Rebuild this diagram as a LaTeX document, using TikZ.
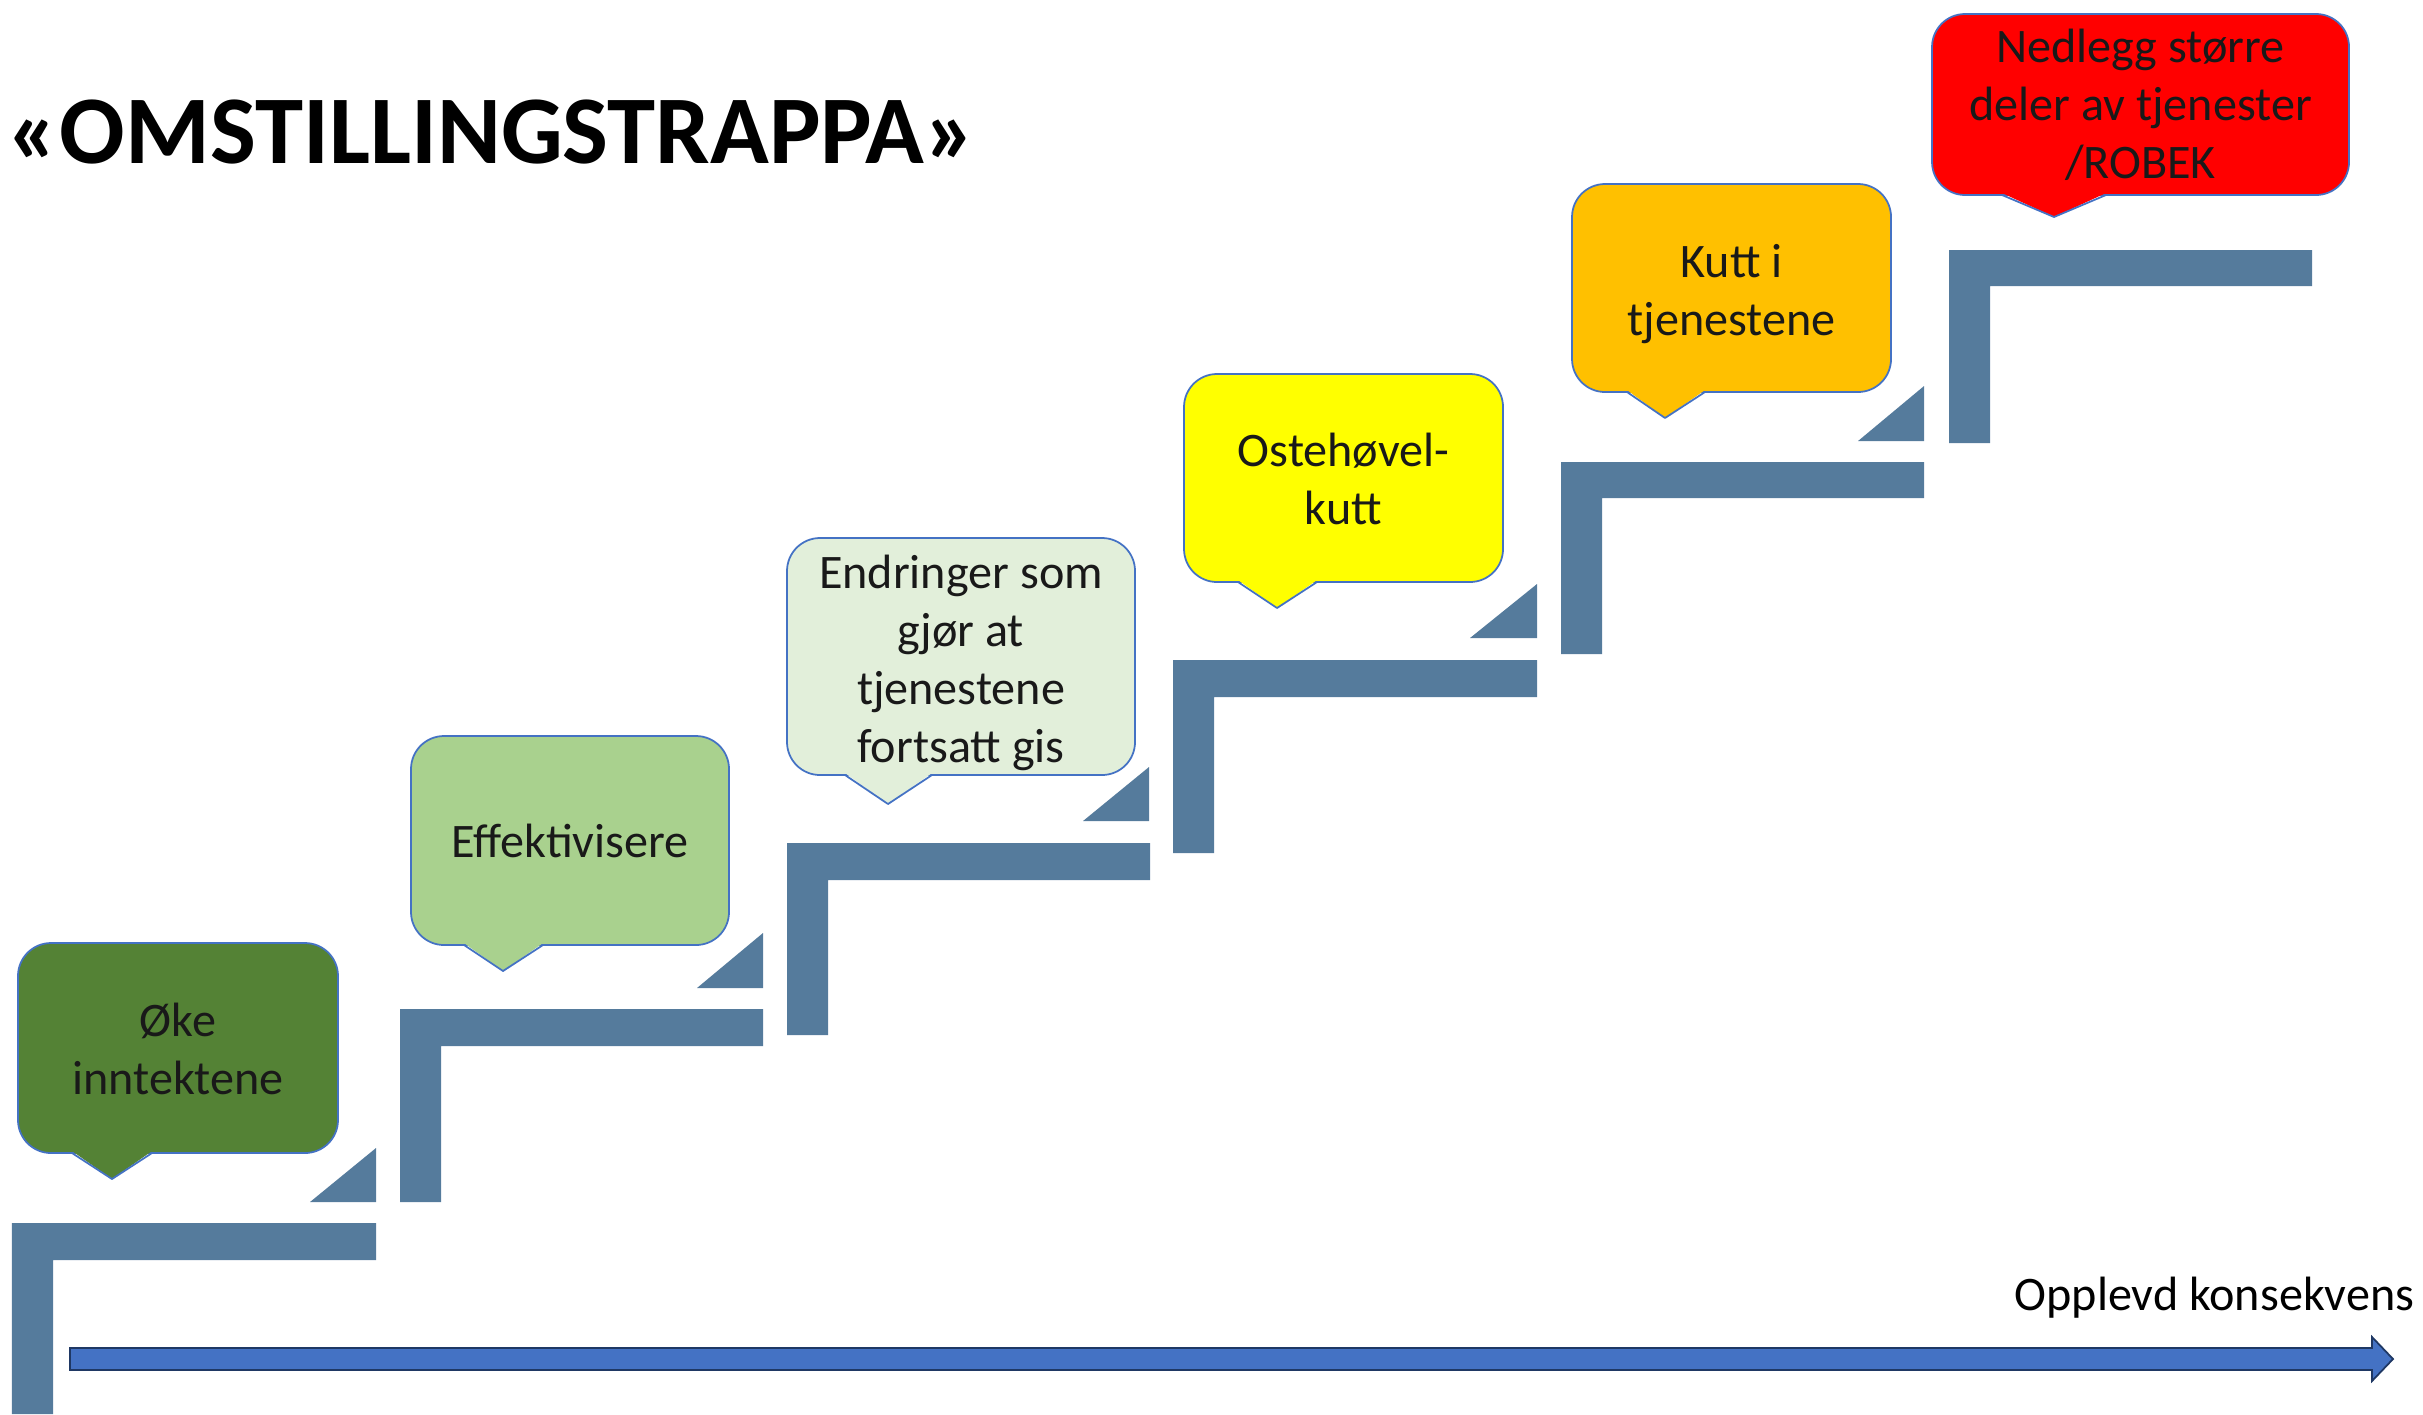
\documentclass[tikz,border=0pt]{standalone}
\usepackage{fontspec}
\setmainfont{Carlito}
\usepackage{tikz}

\definecolor{stair}{HTML}{557B9C}
\definecolor{bubbleedge}{HTML}{4472C4}
\definecolor{axisblue}{HTML}{4472C4}
\definecolor{axisedge}{HTML}{1F3864}
\definecolor{okegreen}{HTML}{548235}
\definecolor{effgreen}{HTML}{A9D18E}
\definecolor{endrgreen}{HTML}{E2EFDA}
\definecolor{ostyellow}{HTML}{FFFF00}
\definecolor{kuttorange}{HTML}{FFC000}
\definecolor{nedred}{HTML}{FF0000}

% tail under a bubble: node, left, tip, right (cm from south west), depth, colour
\newcommand{\bubbletail}[6]{%
	\fill[#6] ([xshift=#2cm, yshift=0.02cm]#1.south west) -- ([xshift=#3cm, yshift=-#5cm]#1.south west) -- ([xshift=#4cm, yshift=0.02cm]#1.south west) -- cycle;
	\draw[bubbleline] ([xshift=#2cm]#1.south west) -- ([xshift=#3cm, yshift=-#5cm]#1.south west) -- ([xshift=#4cm]#1.south west);}

\begin{document}
\begin{tikzpicture}[
		bubbleline/.style={draw=bubbleedge, line width=0.5pt, line join=round},
		bubble/.style={bubbleline, rounded corners=0.33cm, inner sep=0pt, outer sep=0pt},
		bubbletext/.style={inner sep=0pt, align=center, text=black!90, font=\fontsize{13.7}{16.5}\selectfont},
		stairs/.style={fill=stair}
	]
	\useasboundingbox (0,0) rectangle (24.23,-14.14);

	\node[anchor=base west, inner sep=0pt, font=\fontsize{27.6}{33}\selectfont\bfseries] (title) at (0.07,-1.63) {«OMSTILLINGSTRAPPA»};

	% the stairs
	\fill[stairs] (0.12,-12.23) -- ++(3.64,0) -- ++(0,-0.37) -- ++(-3.23,0) -- ++(0,-1.54) -- ++(-0.41,0) -- cycle;
	\fill[stairs] (4.00,-10.09) -- ++(3.63,0) -- ++(0,-0.37) -- ++(-3.22,0) -- ++(0,-1.56) -- ++(-0.41,0) -- cycle;
	\fill[stairs] (7.87,-8.43) -- ++(3.63,0) -- ++(0,-0.37) -- ++(-3.22,0) -- ++(0,-1.55) -- ++(-0.41,0) -- cycle;
	\fill[stairs] (11.73,-6.60) -- ++(3.64,0) -- ++(0,-0.37) -- ++(-3.23,0) -- ++(0,-1.56) -- ++(-0.41,0) -- cycle;
	\fill[stairs] (15.61,-4.62) -- ++(3.63,0) -- ++(0,-0.36) -- ++(-3.22,0) -- ++(0,-1.56) -- ++(-0.41,0) -- cycle;
	\fill[stairs] (19.49,-2.50) -- ++(3.63,0) -- ++(0,-0.36) -- ++(-3.22,0) -- ++(0,-1.57) -- ++(-0.41,0) -- cycle;
	\fill[stairs] (3.76,-12.02) -- ++(-0.66,0) -- ++(0.66,0.54) -- cycle;
	\fill[stairs] (7.63,-9.88) -- ++(-0.66,0) -- ++(0.66,0.55) -- cycle;
	\fill[stairs] (11.49,-8.21) -- ++(-0.66,0) -- ++(0.66,0.54) -- cycle;
	\fill[stairs] (15.37,-6.38) -- ++(-0.67,0) -- ++(0.67,0.54) -- cycle;
	\fill[stairs] (19.24,-4.41) -- ++(-0.66,0) -- ++(0.66,0.55) -- cycle;

	% the bubbles
	\node[bubble, fill=okegreen, minimum width=3.20cm, minimum height=2.10cm] (oke) at (1.78,-10.48) {};
	\node[bubble, fill=effgreen, minimum width=3.18cm, minimum height=2.09cm] (effekt) at (5.70,-8.405) {};
	\node[bubble, fill=endrgreen, minimum width=3.48cm, minimum height=2.37cm] (endring) at (9.61,-6.565) {};
	\node[bubble, fill=ostyellow, minimum width=3.19cm, minimum height=2.08cm] (ost) at (13.435,-4.78) {};
	\node[bubble, fill=kuttorange, minimum width=3.19cm, minimum height=2.08cm] (kutt) at (17.315,-2.88) {};
	\node[bubble, fill=nedred, minimum width=4.17cm, minimum height=1.81cm] (nedlegg) at (21.405,-1.045) {};
	\bubbletail{oke}{0.54}{0.94}{1.34}{0.26}{okegreen}
	\bubbletail{effekt}{0.53}{0.92}{1.32}{0.26}{effgreen}
	\bubbletail{endring}{0.58}{1.01}{1.45}{0.29}{endrgreen}
	\bubbletail{ost}{0.54}{0.93}{1.33}{0.26}{ostyellow}
	\bubbletail{kutt}{0.55}{0.93}{1.33}{0.26}{kuttorange}
	\bubbletail{nedlegg}{0.70}{1.22}{1.74}{0.22}{nedred}
	\node[bubbletext] (oketext) at ([yshift=-0.01cm]oke.center) {Øke\\inntektene};
	\node[bubbletext] (effekttext) at (effekt.center) {Effektivisere};
	\node[bubbletext] (endringtext) at ([yshift=-0.06cm]endring.center) {Endringer som\\gjør at\\tjenestene\\fortsatt gis};
	\node[bubbletext] (osttext) at ([yshift=-0.01cm]ost.center) {Ostehøvel-\\kutt};
	\node[bubbletext] (kutttext) at ([yshift=-0.06cm]kutt.center) {Kutt i\\tjenestene};
	\node[bubbletext] (nedleggtext) at (nedlegg.center) {Nedlegg større\\deler av tjenester\\/ROBEK};

	% the axis
	\filldraw[fill=axisblue, draw=axisedge, line width=0.5pt] (0.70,-13.48) -- (23.72,-13.48) -- (23.72,-13.37) -- (23.93,-13.59) -- (23.72,-13.81) -- (23.72,-13.70) -- (0.70,-13.70) -- cycle;
	\node[anchor=base east, inner sep=0pt, font=\fontsize{13.7}{16.5}\selectfont] (axislabel) at (24.15,-13.10) {Opplevd konsekvens};
\end{tikzpicture}
\end{document}
